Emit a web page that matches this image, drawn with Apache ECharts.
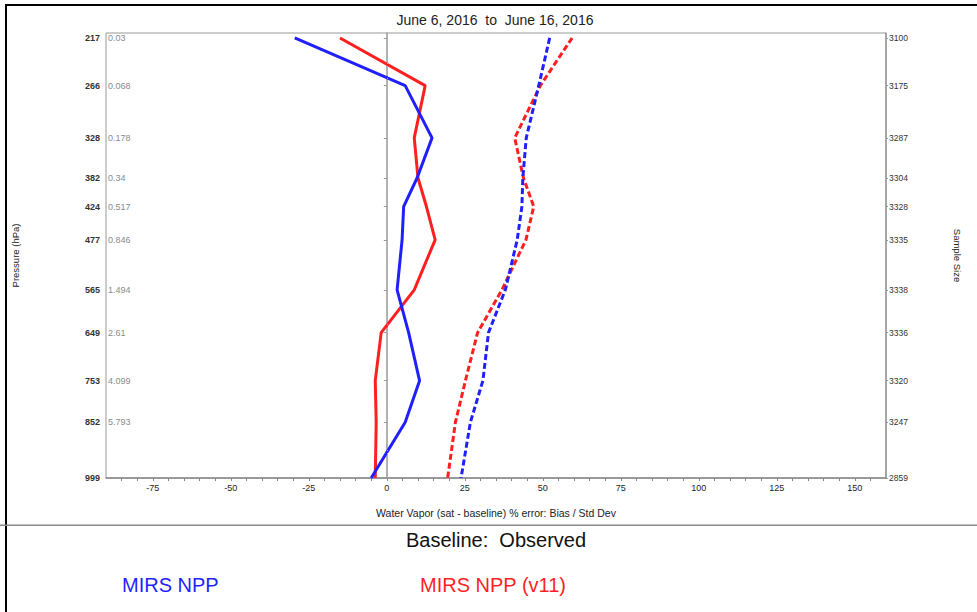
<!DOCTYPE html>
<html>
<head>
<meta charset="utf-8">
<script src="https://cdn.jsdelivr.net/npm/echarts@6/dist/echarts.min.js"></script>
<style>html,body{margin:0;padding:0;background:#fff;}#c{width:977px;height:612px;}</style>
</head>
<body>
<div id="c"></div>
<script>
// ---- data ----
const pressure = [217, 266, 328, 382, 424, 477, 565, 649, 753, 852, 999];
const innerLabels = ['0.03', '0.068', '0.178', '0.34', '0.517', '0.846', '1.494', '2.61', '4.099', '5.793', ''];
const sampleSize = [3100, 3175, 3287, 3304, 3328, 3335, 3338, 3336, 3320, 3247, 2859];
const xTickLabels = [-75, -50, -25, 0, 25, 50, 75, 100, 125, 150];
const nppBias = [-29.5, 5.9, 14.5, 9.7, 5.4, 4.9, 3.3, 7.0, 10.5, 5.9, -5.0];
const v11Bias = [-15.0, 12.3, 8.8, 10.0, 12.7, 15.5, 8.8, -1.8, -3.7, -3.4, -3.7];
const nppStd = [52.2, 48.7, 44.7, 43.6, 43.3, 41.8, 38.0, 32.6, 30.8, 26.8, 23.8];
const v11Std = [59.4, 49.2, 41.0, 43.8, 47.1, 44.6, 36.9, 29.1, 25.2, 22.0, 19.5];

const BLUE = '#1f1fff', RED = '#ff1f1f';
const FONT = '"Liberation Sans", Arial, sans-serif';

function ty(p) { return Math.pow(p, 0.3); }
const levelVals = pressure.map(ty);
function idxOf(v) {
  let best = 0, bd = Infinity;
  levelVals.forEach((lv, i) => { const d = Math.abs(lv - v); if (d < bd) { bd = d; best = i; } });
  return best;
}
const minorTicks = [];
for (let v = -85; v <= 155; v += 5) minorTicks.push(v);

const yBase = {
  type: 'value', inverse: true, min: ty(212.3), max: ty(999),
  splitLine: { show: false }
};

const chart = echarts.init(document.getElementById('c'), null, { renderer: 'svg' });
chart.setOption({
  animation: false,
  backgroundColor: '#fff',
  textStyle: { fontFamily: FONT },
  grid: { left: 106, right: 91, top: 33, bottom: 134, show: true, borderColor: '#999', borderWidth: 1, outerBoundsMode: 'none' },
  xAxis: {
    type: 'value', min: -90, max: 160,
    name: 'Water Vapor (sat - baseline) % error: Bias / Std Dev',
    nameLocation: 'middle', nameGap: 29,
    nameTextStyle: { fontSize: 10.5, color: '#222', fontFamily: FONT },
    axisLine: { show: true, lineStyle: { color: '#888', width: 1.5 } },
    axisTick: { show: true, customValues: minorTicks, length: 3, lineStyle: { color: '#888' } },
    axisLabel: { customValues: xTickLabels, margin: 5, fontSize: 9, color: '#222', fontFamily: FONT },
    splitLine: { show: false }
  },
  yAxis: [
    Object.assign({}, yBase, {
      position: 'left',
      name: 'Pressure (hPa)', nameLocation: 'middle', nameGap: 86, nameRotate: 90,
      nameTextStyle: { fontSize: 9.5, color: '#222', fontFamily: FONT },
      axisLine: { show: true, lineStyle: { color: '#999', width: 1.5 } },
      axisTick: { show: true, customValues: levelVals, length: 3, lineStyle: { color: '#999' } },
      axisLabel: { customValues: levelVals, margin: 6, fontSize: 9, fontWeight: 'bold', color: '#333', fontFamily: FONT,
        formatter: v => String(pressure[idxOf(v)]) }
    }),
    Object.assign({}, yBase, {
      position: 'left',
      axisLine: { show: false }, axisTick: { show: false },
      axisLabel: { customValues: levelVals, inside: true, margin: 2, fontSize: 9, color: '#8a8a8a', fontFamily: FONT,
        formatter: v => innerLabels[idxOf(v)] }
    }),
    Object.assign({}, yBase, {
      position: 'right',
      name: 'Sample Size', nameLocation: 'middle', nameGap: 66, nameRotate: -90,
      nameTextStyle: { fontSize: 9.5, color: '#222', fontFamily: FONT },
      axisLine: { show: true, lineStyle: { color: '#999', width: 1.5 } },
      axisTick: { show: true, customValues: levelVals, length: 2, lineStyle: { color: '#999' } },
      axisLabel: { customValues: levelVals, margin: 3, fontSize: 8.5, color: '#333', fontFamily: FONT,
        formatter: v => String(sampleSize[idxOf(v)]) }
    })
  ],
  legend: [
    { data: [{ name: 'MIRS NPP', icon: 'none', textStyle: { color: BLUE } }],
      left: 117, top: 575, itemWidth: 0, itemHeight: 20, padding: 0, selectedMode: false,
      textStyle: { fontSize: 20, fontFamily: FONT } },
    { data: [{ name: 'MIRS NPP (v11)', icon: 'none', textStyle: { color: RED } }],
      left: 415, top: 575, itemWidth: 0, itemHeight: 20, padding: 0, selectedMode: false,
      textStyle: { fontSize: 20, fontFamily: FONT } }
  ],
  graphic: [
    { type: 'rect', shape: { x: 5, y: 4, width: 972, height: 2 }, style: { fill: '#000' }, silent: true },
    { type: 'rect', shape: { x: 5, y: 4, width: 2, height: 608 }, style: { fill: '#000' }, silent: true },
    { type: 'rect', shape: { x: 0, y: 524.5, width: 977, height: 1.5 }, style: { fill: '#888' }, silent: true },
    { type: 'text', x: 495, y: 20, style: { text: 'June 6, 2016  to  June 16, 2016', fill: '#222', font: '14px ' + FONT, textAlign: 'center', textVerticalAlign: 'middle' }, silent: true },
    { type: 'text', x: 496, y: 540, style: { text: 'Baseline:  Observed', fill: '#111', font: '20px ' + FONT, textAlign: 'center', textVerticalAlign: 'middle' }, silent: true }
  ],
  series: [
    { name: 'MIRS NPP (v11)', type: 'line', symbol: 'none', yAxisIndex: 0,
      data: v11Bias.map((v, i) => [v, ty(pressure[i])]),
      lineStyle: { color: RED, width: 3 }, itemStyle: { color: RED },
      markLine: { silent: true, symbol: ['none', 'none'], label: { show: false },
        lineStyle: { type: [1, 2], color: '#aaa', width: 1 }, data: [{ xAxis: 0 }] } },
    { name: 'MIRS NPP', type: 'line', symbol: 'none', yAxisIndex: 0,
      data: nppBias.map((v, i) => [v, ty(pressure[i])]),
      lineStyle: { color: BLUE, width: 3 }, itemStyle: { color: BLUE } },
    { name: 'MIRS NPP (v11)', type: 'line', symbol: 'none', yAxisIndex: 0,
      data: v11Std.map((v, i) => [v, ty(pressure[i])]),
      lineStyle: { color: RED, width: 3, type: [6, 3] }, itemStyle: { color: RED } },
    { name: 'MIRS NPP', type: 'line', symbol: 'none', yAxisIndex: 0,
      data: nppStd.map((v, i) => [v, ty(pressure[i])]),
      lineStyle: { color: BLUE, width: 3, type: [6, 3] }, itemStyle: { color: BLUE } }
  ]
});
</script>
</body>
</html>
